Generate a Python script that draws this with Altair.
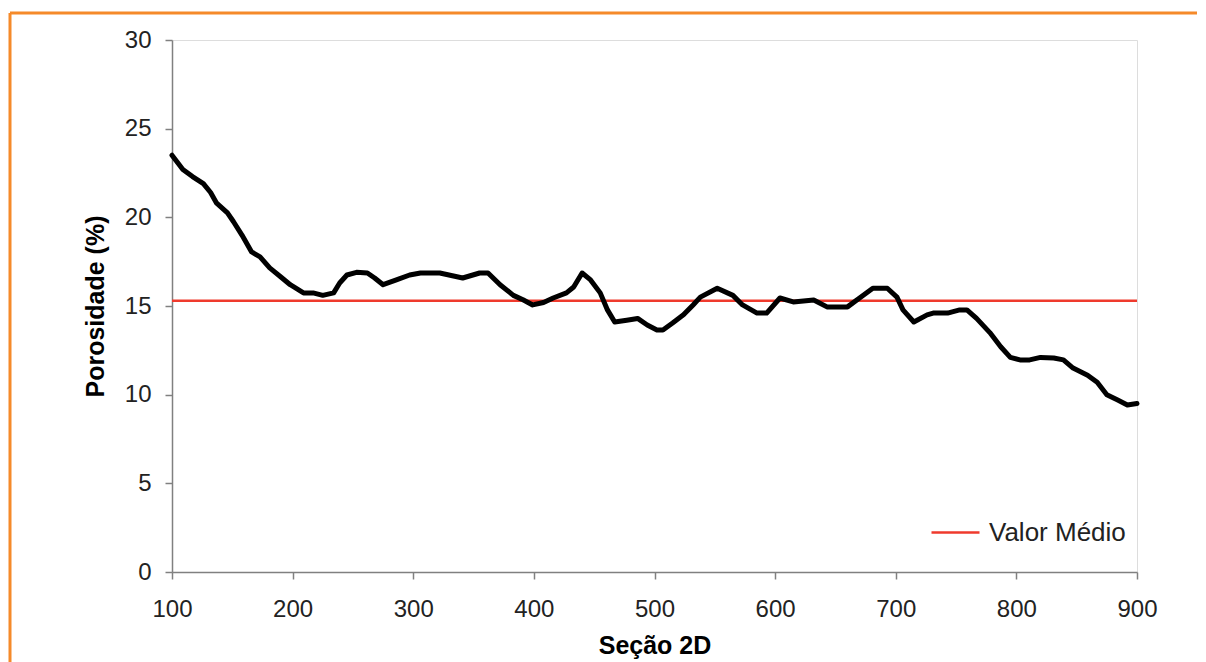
import altair as alt
import pandas as pd

# Porosity along 2D sections
secao = [100, 109, 117, 126, 132, 137, 146, 151, 158, 166, 173, 181, 190, 198,
         209, 217, 225, 234, 239, 245, 253, 262, 268, 275, 286, 297, 306,
         322, 341, 355, 362, 372, 383, 391, 399, 408, 416, 427, 433, 440,
         447, 455, 461, 467, 477, 486, 494, 502, 507, 515, 524, 532, 538,
         552, 565, 573, 585, 593, 604, 615, 632, 643, 660, 670, 681, 693,
         701, 706, 715, 726, 731, 743, 753, 759, 767, 778, 787, 795, 803,
         811, 820, 831, 839, 847, 859, 867, 875, 884, 892, 900]
porosidade = [23.5, 22.7, 22.3, 21.9, 21.4, 20.8, 20.25, 19.75, 19.0, 18.05, 17.77, 17.15, 16.65, 16.2,
              15.74, 15.74, 15.6, 15.74, 16.3, 16.75, 16.9, 16.86, 16.58, 16.2, 16.47, 16.75, 16.86,
              16.86, 16.58, 16.86, 16.86, 16.2, 15.6, 15.35, 15.06, 15.2, 15.45, 15.74, 16.07, 16.86,
              16.47, 15.74, 14.78, 14.1, 14.2, 14.3, 13.93, 13.65, 13.65, 14.04, 14.5, 15.06, 15.5,
              16.0, 15.6, 15.06, 14.6, 14.6, 15.45, 15.23, 15.34, 14.95, 14.95, 15.45, 16.0, 16.0,
              15.5, 14.78, 14.1, 14.5, 14.6, 14.6, 14.78, 14.78, 14.3, 13.5, 12.7, 12.1, 11.96,
              11.96, 12.1, 12.07, 11.96, 11.5, 11.1, 10.7, 10.0, 9.7, 9.42, 9.5]
assert len(secao) == len(porosidade)

media_nome = ["Valor Médio"]
media_valor = [15.3]

x_ticks = [100, 200, 300, 400, 500, 600, 700, 800, 900]
y_ticks = [0, 5, 10, 15, 20, 25, 30]

FONT = "Liberation Sans"
W, H = 965, 532

df = pd.DataFrame({"secao": secao, "porosidade": porosidade})
df_media = pd.DataFrame({"serie": media_nome, "valor": media_valor})

x_enc = alt.X("secao:Q", title="Seção 2D",
              scale=alt.Scale(domain=[100, 900], nice=False),
              axis=alt.Axis(values=x_ticks, grid=False, labelFontSize=24,
                            labelFont=FONT, labelColor="#222222", labelFlush=False,
                            titleFontSize=25, titleFont=FONT, titleFontWeight="bold",
                            titleColor="#000000", titlePadding=12,
                            labelPadding=18, tickSize=7, tickColor="#808080",
                            domainColor="#808080", domainWidth=1.5, tickWidth=1.5))
y_enc = alt.Y("porosidade:Q", title="Porosidade (%)",
              scale=alt.Scale(domain=[0, 30], nice=False),
              axis=alt.Axis(values=y_ticks, grid=False, labelFontSize=24,
                            labelFont=FONT, labelColor="#222222", labelFlush=False,
                            titleFontSize=25, titleFont=FONT, titleFontWeight="bold",
                            titleColor="#000000", titlePadding=16,
                            labelPadding=14, tickSize=7, tickColor="#808080",
                            domainColor="#808080", domainWidth=1.5, tickWidth=1.5))

linha = alt.Chart(df).mark_line(color="#000000", strokeWidth=5,
                                strokeJoin="round", strokeCap="round").encode(
    x=x_enc, y=y_enc)

media = alt.Chart(df_media).mark_rule(strokeWidth=2.5).encode(
    y=alt.Y("valor:Q"),
    color=alt.Color("serie:N",
                    scale=alt.Scale(domain=media_nome, range=["#ef3a2d"]),
                    legend=alt.Legend(title=None, orient="none", legendX=758,
                                      legendY=467, symbolType="stroke",
                                      symbolSize=2304, symbolStrokeWidth=2.5,
                                      labelFontSize=26, labelFont=FONT,
                                      labelColor="#222222", labelOffset=8)))

borda_topo = alt.Chart(df_media).mark_rule(color="#f58a2a", strokeWidth=3).encode(
    x=alt.value(-162), x2=alt.value(1100), y=alt.value(-27))
borda_esq = alt.Chart(df_media).mark_rule(color="#f58a2a", strokeWidth=3).encode(
    x=alt.value(-162), y=alt.value(-27), y2=alt.value(700))

chart = alt.layer(borda_topo, borda_esq, media, linha).properties(
    width=W, height=H,
    autosize=alt.AutoSizeParams(type="none"),
    padding={"left": 164, "top": 32, "right": 60, "bottom": 90},
).configure_view(stroke=None).configure(background="#ffffff")

chart.save("out.html", embed_options={"renderer": "svg", "actions": False})
